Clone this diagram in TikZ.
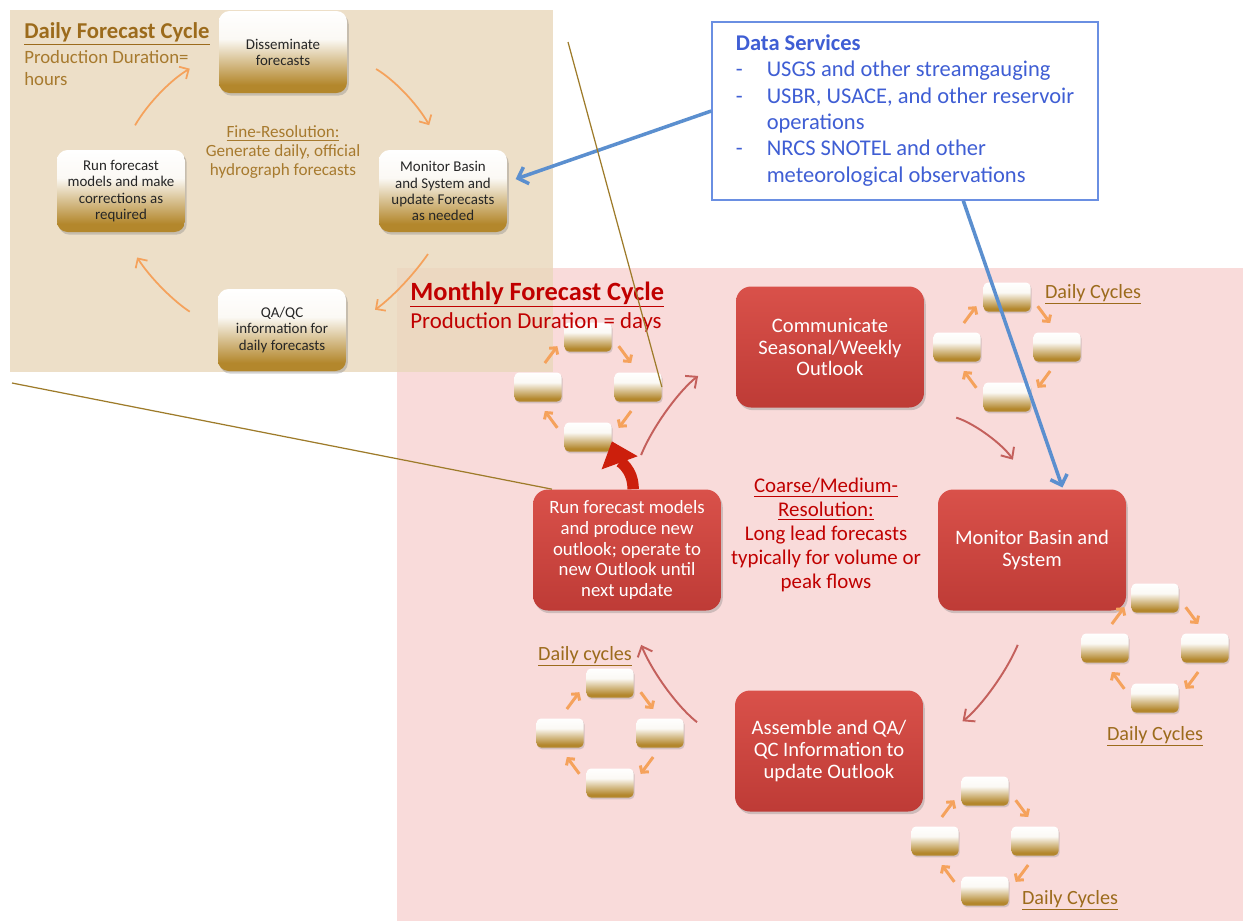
\documentclass[tikz,border=0pt]{standalone}
\usepackage{fontspec}
\setmainfont{Carlito}
\usepackage{tikz}
\usetikzlibrary{positioning,shapes,shadows,arrows,arrows.meta}

\definecolor{tanbg}{HTML}{E9D8BB}
\definecolor{pinkbg}{HTML}{F9DBDA}
\definecolor{goldD}{HTML}{B3872C}
\definecolor{brownT}{HTML}{9C6B1C}
\definecolor{brownL}{HTML}{A77A2E}
\definecolor{arrOr}{HTML}{F5A25C}
\definecolor{redTop}{HTML}{D9514A}
\definecolor{redBot}{HTML}{BE3B36}
\definecolor{redArr}{HTML}{C4605C}
\definecolor{redTxt}{HTML}{C00000}
\definecolor{bigRed}{HTML}{CC1F0C}
\definecolor{blueLn}{HTML}{5B8FCF}
\definecolor{blueTx}{HTML}{3F5ED4}
\definecolor{blueBx}{HTML}{6A8FE2}
\definecolor{zoomLn}{HTML}{9E7B2A}

\pgfdeclareverticalshading{goldfade}{100bp}{color(0bp)=(goldD); color(25bp)=(goldD); color(30bp)=(goldD); color(45bp)=(goldD!50!white); color(58bp)=(white!95!goldD); color(75bp)=(white); color(100bp)=(white)}

% small daily cycle: name, x, y
\newcommand{\minicyc}[3]{%
  \node[minibox] (#1t) at ({#2},{#3-50}) {};
  \node[minibox] (#1l) at ({#2-50},{#3}) {};
  \node[minibox] (#1r) at ({#2+50},{#3}) {};
  \node[minibox] (#1b) at ({#2},{#3+50}) {};
  \draw[miniarr] (#1l.north) -- (#1t.west);
  \draw[miniarr] (#1t.east) -- (#1r.north);
  \draw[miniarr] (#1r.south) -- (#1b.east);
  \draw[miniarr] (#1b.west) -- (#1l.south);
}

\begin{document}
\begin{tikzpicture}[x=0.02cm,y=-0.02cm,
  every node/.style={inner sep=0pt},
  dailynode/.style={shade, shading=goldfade, rounded corners=6pt, minimum width=2.56cm, minimum height=1.64cm, align=center, text=black!85, font=\fontsize{8.5}{9.2}\selectfont, drop shadow={opacity=0.35, shadow xshift=1pt, shadow yshift=-1.5pt}},
  monthnode/.style={top color=redTop, bottom color=redBot, rounded corners=8.5pt, minimum width=3.76cm, minimum height=2.42cm, align=center, text=white, font=\fontsize{11.7}{12.3}\selectfont, drop shadow={opacity=0.35, shadow xshift=1pt, shadow yshift=-1.5pt}},
  smalltxt/.style={font=\fontsize{10.7}{11.8}\selectfont},
  minibox/.style={shade, shading=goldfade, rounded corners=2.5pt, minimum width=0.94cm, minimum height=0.58cm, drop shadow={opacity=0.3, shadow xshift=0.6pt, shadow yshift=-1pt}},
  dayarr/.style={draw=arrOr, line width=1pt, -{Straight Barb[length=4pt,width=8pt]}},
  miniarr/.style={draw=arrOr, line width=1.7pt, -{Straight Barb[length=2.6pt,width=6pt]}, shorten <=6.5pt, shorten >=6.5pt},
  redarr/.style={draw=redArr, line width=1.1pt, -{Straight Barb[length=5pt,width=9pt]}},
  bigarr/.style={draw=bigRed, line width=6.5pt, -{Triangle[length=13pt,width=21pt]}},
  bluearr/.style={draw=blueLn, line width=2pt, -{Straight Barb[length=5pt,width=10pt]}},
  zoomln/.style={draw=zoomLn, line width=0.7pt},
  databox/.style={draw=blueBx, line width=0.9pt, fill=white, minimum width=7.72cm, minimum height=3.56cm, text=blueTx, font=\fontsize{12.8}{15}\selectfont},
  cyclbl/.style={text=brownT, font=\fontsize{11.5}{12}\selectfont},
]
\useasboundingbox (0,0) rectangle (1243,921);
\fill[white] (0,0) rectangle (1243,921);
\fill[pinkbg] (397,268) rectangle (1243,921);
\fill[tanbg, opacity=0.8] (10,10) rectangle (553,372);

% daily forecast cycle
\node[dailynode] (dsem) at (283,52) {Disseminate\\forecasts};
\node[dailynode] (dmon) at (443,191) {Monitor Basin\\and System and\\update Forecasts\\as needed};
\node[dailynode] (dqa) at (282,330) {QA/QC\\information for\\daily forecasts};
\node[dailynode] (drun) at (121,191) {Run forecast\\models and make\\corrections as\\required};
\draw[dayarr, shorten <=19pt, shorten >=16pt] (dsem.east) to[bend left=15] (dmon.north);
\draw[dayarr, shorten <=15pt, shorten >=20pt] (dmon.south) to[bend left=10] (dqa.east);
\draw[dayarr, shorten <=19pt, shorten >=17pt] (dqa.west) to[bend left=12] (drun.south);
\draw[dayarr, shorten <=16pt, shorten >=19pt] (drun.north) to[bend left=15] (dsem.west);

\node[anchor=base west, text=brownT, font=\fontsize{12.9}{13}\selectfont\bfseries] (dtitle) at (24,38) {\underline{Daily Forecast Cycle}};
\node[anchor=west, align=left, text=brownL, font=\fontsize{10.7}{13}\selectfont] (dsub) at (24,68) {Production Duration=\\hours};
\node[align=center, text=brownL, font=\fontsize{9.75}{10.8}\selectfont] (fres) at (283,152) {\underline{Fine-Resolution:}\\Generate daily, official\\hydrograph forecasts};

% monthly forecast cycle
\node[monthnode] (comm) at (830,347) {Communicate\\Seasonal/Weekly\\Outlook};
\node[monthnode] (mmon) at (1032,550) {Monitor Basin and\\System};
\node[monthnode] (asm) at (829,751) {Assemble and QA/\\QC Information to\\update Outlook};
\node[monthnode, smalltxt] (run) at (627,550) {Run forecast models\\and produce new\\outlook; operate to\\new Outlook until\\next update};
\node[align=center, text=redTxt, font=\fontsize{11.9}{13.6}\selectfont] (cres) at (826,535) {\underline{Coarse/Medium-}\\\underline{Resolution:}\\Long lead forecasts\\typically for volume or\\peak flows};

\draw[redarr, shorten <=21pt, shorten >=27pt] (run.north) to[bend left=15] (comm.west);
\draw[redarr, shorten <=19pt, shorten >=20pt] (comm.south east) to[bend left=20] (mmon.north);
\draw[redarr, shorten <=21pt, shorten >=28pt] (mmon.south) to[bend left=15] (asm.east);
\draw[redarr, shorten <=27pt, shorten >=21pt] (asm.west) to[bend left=15] (run.south);

% small daily cycles
\minicyc{mc1}{588}{387}
\minicyc{mc2}{1007}{347}
\minicyc{mc3}{1155}{648}
\minicyc{mc4}{610}{733}
\minicyc{mc5}{985}{841}
\node[cyclbl, anchor=base] (lbl2) at (1093,298) {\underline{Daily Cycles}};
\node[cyclbl, anchor=base] (lbl3) at (1155,740) {\underline{Daily Cycles}};
\node[cyclbl, anchor=base] (lbl4) at (585,660) {\underline{Daily cycles}};
\node[cyclbl, anchor=base] (lbl5) at (1070,904) {\underline{Daily Cycles}};

\node[anchor=base west, text=redTxt, font=\fontsize{15}{15}\selectfont\bfseries] (mtitle) at (410,300) {\underline{Monthly Forecast Cycle}};
\node[anchor=base west, text=redTxt, font=\fontsize{13}{15}\selectfont] (msub) at (410,328) {Production Duration = days};

\draw[bigarr] ([xshift=3.5pt]run.north) to[out=90,in=-70] ([yshift=6pt]mc1b.south east);

% data services
\node[databox] (data) at (905,111) {\begin{tabular}{@{}p{17.6pt}@{}l@{}}
\multicolumn{2}{@{}l@{}}{\textbf{Data Services}}\\
- & USGS and other streamgauging\\
- & USBR, USACE, and other reservoir\\
  & operations\\
- & NRCS SNOTEL and other\\
  & meteorological observations
\end{tabular}};
\draw[bluearr, shorten >=5pt] (data.west) -- (dmon.8);
\draw[bluearr, shorten >=1pt] (data.303) -- (mmon.63);

% zoom lines
\coordinate (zA) at (568,42);
\coordinate (zB) at (12,383);
\draw[zoomln] (zA) -- (mc1r.east);
\draw[zoomln] (zB) -- ([xshift=11pt]run.north west);
\end{tikzpicture}
\end{document}
